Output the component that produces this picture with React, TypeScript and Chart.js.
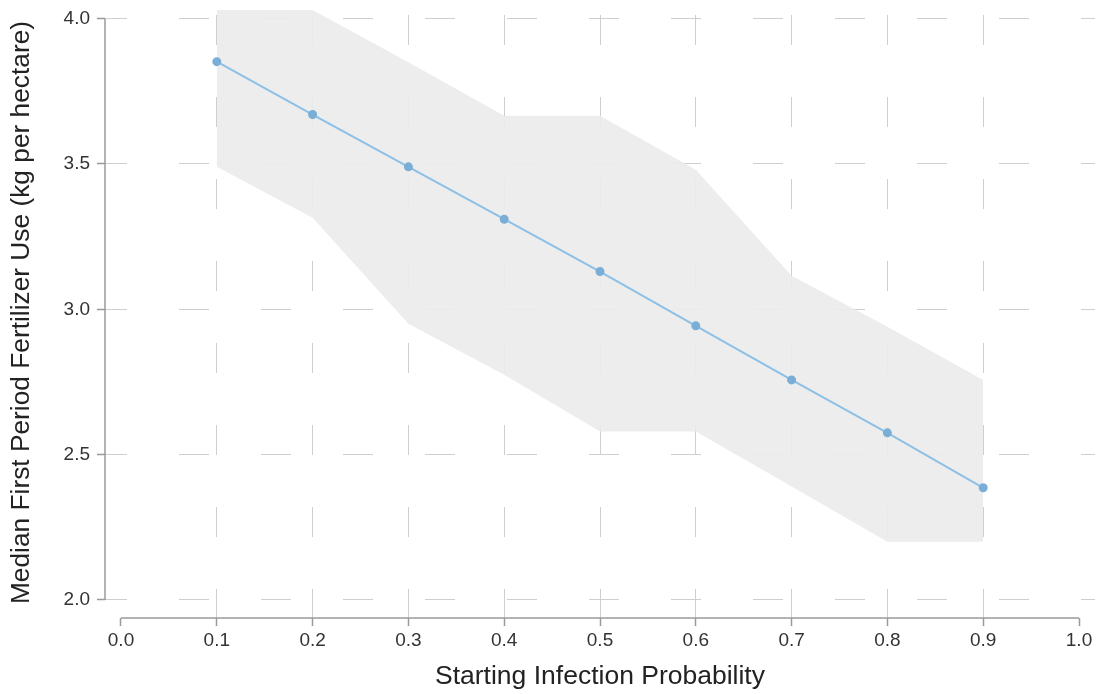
import React, { useEffect, useRef } from "react";
import { Chart, registerables } from "chart.js";

Chart.register(...registerables);

const xValues = [0.1, 0.2, 0.3, 0.4, 0.5, 0.6, 0.7, 0.8, 0.9];
const medianUse = [3.852, 3.67, 3.49, 3.31, 3.13, 2.943, 2.757, 2.575, 2.386];
const upperBound = [4.03, 4.03, 3.85, 3.666, 3.666, 3.48, 3.115, 2.94, 2.757];
const lowerBound = [3.49, 3.315, 2.95, 2.775, 2.58, 2.58, 2.39, 2.2, 2.2];
const xTicks = [0, 0.1, 0.2, 0.3, 0.4, 0.5, 0.6, 0.7, 0.8, 0.9, 1.0];
const yTicks = [2.0, 2.5, 3.0, 3.5, 4.0];

const FONT = "'Liberation Sans', Arial, Helvetica, sans-serif";
const AXIS_COLOR = "#9a9a9a";
const GRID_COLOR = "#cfcfcf";

const axisLinesPlugin = {
  id: "axisLines",
  afterDraw(chart: any) {
    const { ctx, chartArea, scales } = chart;
    const x = scales.x;
    const y = scales.y;
    ctx.save();
    ctx.strokeStyle = AXIS_COLOR;
    ctx.lineWidth = 1.5;
    ctx.setLineDash([]);
    ctx.beginPath();
    ctx.moveTo(chartArea.left, y.getPixelForValue(yTicks[0]));
    ctx.lineTo(chartArea.left, y.getPixelForValue(yTicks[yTicks.length - 1]));
    ctx.moveTo(x.getPixelForValue(xTicks[0]), chartArea.bottom);
    ctx.lineTo(x.getPixelForValue(xTicks[xTicks.length - 1]), chartArea.bottom);
    ctx.stroke();
    ctx.restore();
  },
};

export default function App() {
  const ref = useRef<HTMLCanvasElement | null>(null);
  useEffect(() => {
    if (!ref.current) return;
    const chart = new Chart(ref.current, {
      type: "line",
      data: {
        datasets: [
          {
            label: "upper",
            data: xValues.map((x, i) => ({ x, y: upperBound[i] })),
            borderWidth: 0,
            borderColor: "rgba(0,0,0,0)",
            pointRadius: 0,
            fill: false,
            order: 2,
          },
          {
            label: "lower",
            data: xValues.map((x, i) => ({ x, y: lowerBound[i] })),
            borderWidth: 0,
            borderColor: "rgba(0,0,0,0)",
            backgroundColor: "rgba(236,236,236,0.92)",
            pointRadius: 0,
            fill: "-1",
            order: 2,
          },
          {
            label: "median",
            data: xValues.map((x, i) => ({ x, y: medianUse[i] })),
            borderColor: "#8cc0e6",
            borderWidth: 2,
            pointRadius: 3.5,
            pointBackgroundColor: "#7aaed6",
            pointBorderColor: "#7aaed6",
            fill: false,
            order: 1,
          },
        ],
      },
      options: {
        animation: false,
        responsive: false,
        maintainAspectRatio: false,
        layout: { padding: { top: 7, right: 0, left: 0, bottom: 0 } },
        plugins: {
          legend: { display: false },
          tooltip: { enabled: false },
        },
        scales: {
          x: {
            type: "linear",
            min: -0.0167,
            max: 1.0167,
            afterBuildTicks: (s: any) => {
              s.ticks = xTicks.map((v) => ({ value: v }));
            },
            afterFit: (s: any) => {
              s.height = 76;
              s.paddingLeft = 0;
              s.paddingRight = 0;
            },
            border: { display: false, dash: [30, 52], dashOffset: 74 },
            grid: {
              color: (c: any) =>
                c.tick && (c.tick.value === 0 || c.tick.value === 1) ? "rgba(0,0,0,0)" : GRID_COLOR,
              lineWidth: 1,
              drawTicks: true,
              tickLength: 8,
              tickColor: AXIS_COLOR,
              tickBorderDash: [],
              tickWidth: 1.5,
            },
            ticks: {
              color: "#333",
              font: { family: FONT, size: 19 },
              padding: 3,
              maxRotation: 0,
              callback: (v: any) => Number(v).toFixed(1),
            },
            title: {
              display: true,
              text: "Starting Infection Probability",
              color: "#222",
              font: { family: FONT, size: 26.5 },
              padding: { top: 0, bottom: 1 },
            },
          },
          y: {
            type: "linear",
            min: 1.938,
            max: 4.04,
            afterBuildTicks: (s: any) => {
              s.ticks = yTicks.map((v) => ({ value: v }));
            },
            afterFit: (s: any) => {
              s.width = 105;
              s.paddingTop = 0;
              s.paddingBottom = 0;
            },
            border: { display: false, dash: [30, 52], dashOffset: 8 },
            grid: {
              color: GRID_COLOR,
              lineWidth: 1,
              drawTicks: true,
              tickLength: 8,
              tickColor: AXIS_COLOR,
              tickBorderDash: [],
              tickWidth: 1.5,
            },
            ticks: {
              color: "#333",
              font: { family: FONT, size: 19 },
              padding: 7,
              callback: (v: any) => Number(v).toFixed(1),
            },
            title: {
              display: true,
              text: "Median First Period Fertilizer Use (kg per hectare)",
              color: "#222",
              font: { family: FONT, size: 26.3 },
              padding: { top: 6, bottom: 0 },
            },
          },
        },
      },
      plugins: [axisLinesPlugin],
    });
    return () => chart.destroy();
  }, []);
  return (
    <div style={{ position: "fixed", left: 0, top: 0, width: 1101, height: 694, background: "#fff" }}>
      <canvas ref={ref} width={1101} height={694} style={{ display: "block", width: 1101, height: 694 }} />
    </div>
  );
}
